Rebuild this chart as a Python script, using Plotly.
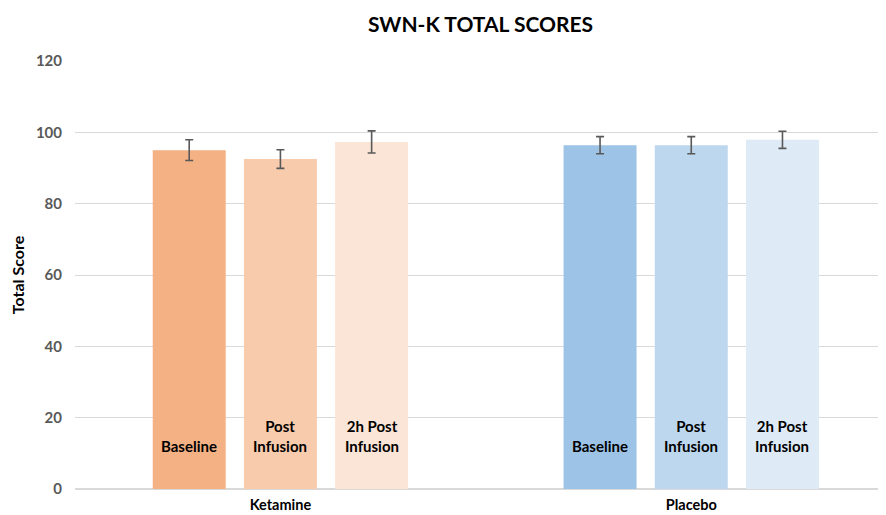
import plotly.graph_objects as go

groups = ["Ketamine", "Placebo"]
timepoints = ["Baseline", "Post<br>Infusion", "2h Post<br>Infusion"]
means = {
    "Baseline": [95.0, 96.4],
    "Post<br>Infusion": [92.5, 96.4],
    "2h Post<br>Infusion": [97.3, 97.9],
}
errors = {
    "Baseline": [2.9, 2.4],
    "Post<br>Infusion": [2.6, 2.4],
    "2h Post<br>Infusion": [3.1, 2.4],
}
colors = {
    "Baseline": ["#F4B183", "#9DC3E6"],
    "Post<br>Infusion": ["#F8CBAD", "#BDD7EE"],
    "2h Post<br>Infusion": ["#FBE5D6", "#DEEBF7"],
}
yticks = [0, 20, 40, 60, 80, 100, 120]

FONT = "Lato, 'Open Sans', sans-serif"
bargap = 0.334

fig = go.Figure()
for tp in timepoints:
    fig.add_trace(go.Bar(
        x=groups, y=means[tp], name=tp.replace("<br>", " "),
        marker=dict(color=colors[tp], line=dict(width=0)),
        error_y=dict(type="data", array=errors[tp], color="#595959",
                     thickness=1.6, width=4),
        showlegend=False,
    ))

pitch = (1 - bargap) / len(timepoints)
annotations = []
for gi, g in enumerate(groups):
    for ti, tp in enumerate(timepoints):
        annotations.append(dict(
            x=gi + (ti - 1) * pitch, y=9, xref="x", yref="y",
            text="<b>" + tp + "</b>", showarrow=False, yanchor="bottom",
            font=dict(family=FONT, size=15, color="#000000"),
        ))

fig.update_layout(
    width=878, height=507,
    margin=dict(l=67, r=0, t=53, b=26, autoexpand=False),
    paper_bgcolor="white", plot_bgcolor="white",
    barmode="group", bargap=bargap, bargroupgap=0.2,
    title=dict(text="<b>SWN-K TOTAL SCORES</b>", x=0.5, xanchor="center",
               xref="paper", y=0.968, yanchor="middle",
               font=dict(family=FONT, size=21, color="#000000")),
    font=dict(family=FONT),
    annotations=annotations,
)
fig.update_xaxes(
    range=[-0.5, 1.474], showgrid=False, ticks="", showline=False,
    automargin=False, ticklabelstandoff=5,
    tickfont=dict(family=FONT, size=14.5, color="#000000"),
    tickprefix="<b>", ticksuffix="</b>",
)
fig.update_yaxes(
    range=[0, 120], tickvals=yticks, ticktext=["<b>%d</b>" % v for v in yticks],
    showgrid=True, gridcolor="#D9D9D9", gridwidth=1,
    zeroline=True, zerolinecolor="#D9D9D9", zerolinewidth=1.5,
    tickfont=dict(family=FONT, size=15, color="#595959"),
    ticks="", ticklabelstandoff=12, automargin=False,
    title=dict(text="<b>Total Score</b>", standoff=14,
               font=dict(family=FONT, size=16, color="#000000")),
)

fig.write_html("out.html")
